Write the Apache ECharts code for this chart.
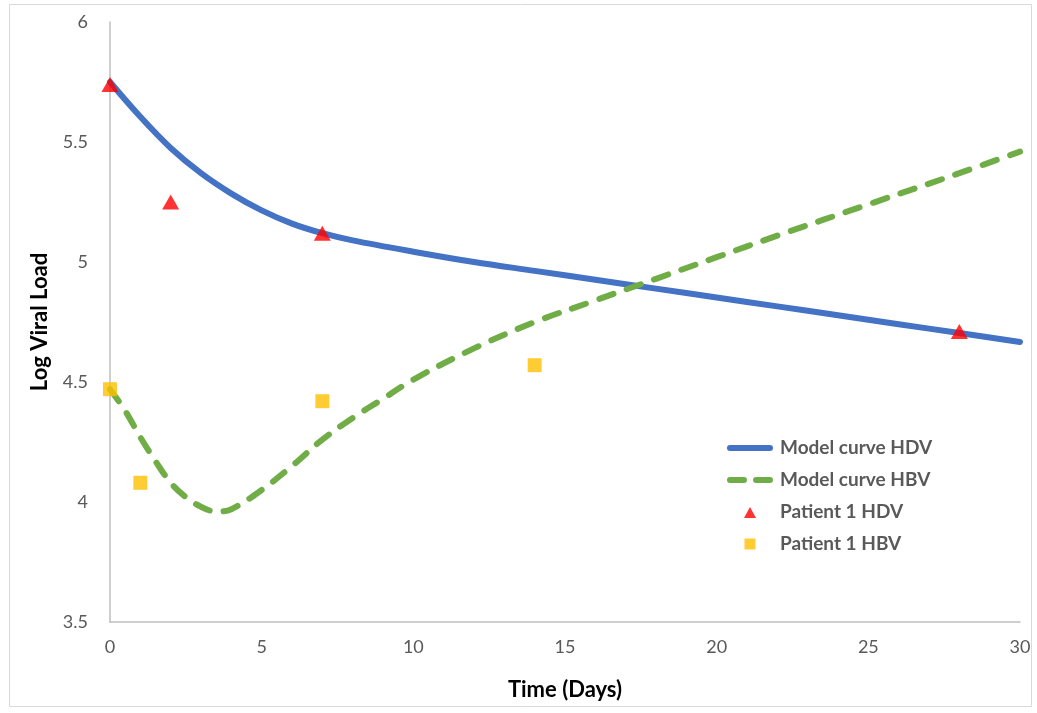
<!DOCTYPE html>
<html>
<head>
<meta charset="utf-8">
<script src="https://cdn.jsdelivr.net/npm/echarts@6/dist/echarts.min.js"></script>
<style>
  html, body { margin: 0; padding: 0; background: #fff; }
  #chart { width: 1037px; height: 713px; }
</style>
</head>
<body>
<div id="chart"></div>
<script>
// model curves (days, log viral load)
var hdvDays = [0, 1, 2, 3, 4, 5, 6, 7, 8, 10, 12, 14, 16, 18, 20, 22, 24, 26, 28, 30]
var hdvModel = [5.75, 5.605, 5.475, 5.37, 5.285, 5.215, 5.16, 5.12, 5.09, 5.043, 5.0, 4.963, 4.926, 4.889, 4.852, 4.815, 4.778, 4.741, 4.704, 4.667]
var hbvDays = [0, 0.5, 1, 1.5, 2, 2.5, 3, 3.5, 4, 5, 6, 7, 8, 9, 10, 12, 14, 16, 18, 20, 22, 25, 28, 30]
var hbvModel = [4.47, 4.38, 4.27, 4.17, 4.08, 4.02, 3.98, 3.96, 3.97, 4.05, 4.15, 4.26, 4.35, 4.43, 4.51, 4.64, 4.75, 4.84, 4.93, 5.02, 5.11, 5.24, 5.37, 5.46]

// patient measurements
var patHdvDays = [0, 2, 7, 28]
var patHdv = [5.74, 5.25, 5.12, 4.71]
var patHbvDays = [0, 1, 7, 14]
var patHbv = [4.47, 4.08, 4.42, 4.57]

function pairs(xs, ys) {
  return xs.map(function (x, i) { return [x, ys[i]] })
}

var font = 'Lato, "Open Sans", sans-serif'
// legend icons drawn in a 48x20 box (the bare M's fix the box size)
var box = 'M0,0 M48,20 '
var iconSolid = 'path://' + box + 'M3,7 L43,7 A3,3 0 0 1 43,13 L3,13 A3,3 0 0 1 3,7 Z'
var iconDash = 'path://' + box + 'M3,7 L17,7 A3,3 0 0 1 17,13 L3,13 A3,3 0 0 1 3,7 Z M29,7 L43,7 A3,3 0 0 1 43,13 L29,13 A3,3 0 0 1 29,7 Z'
var iconTri = 'path://' + box + 'M17,16 L29,16 L23,5 Z'
var iconSq = 'path://' + box + 'M17.5,4.5 L28.5,4.5 L28.5,15.5 L17.5,15.5 Z'

var chart = echarts.init(document.getElementById('chart'))

chart.setOption({
  animation: false,
  textStyle: { fontFamily: font },
  grid: { left: 110, right: 17, top: 22, bottom: 91, containLabel: false },
  graphic: [{
    type: 'rect',
    shape: { x: 9.5, y: 4.5, width: 1022, height: 702 },
    style: { fill: 'none', stroke: '#d9d9d9', lineWidth: 1 },
    silent: true
  }],
  legend: {
    left: 722,
    top: 433,
    orient: 'vertical',
    itemGap: 12,
    itemWidth: 48,
    itemHeight: 20,
    itemStyle: { borderWidth: 0 },
    textStyle: { fontSize: 19, fontWeight: 'bold', color: '#595959', fontFamily: font },
    data: [
      { name: 'Model curve HDV', icon: iconSolid },
      { name: 'Model curve HBV', icon: iconDash },
      { name: 'Patient 1 HDV', icon: iconTri },
      { name: 'Patient 1 HBV', icon: iconSq }
    ]
  },
  xAxis: {
    type: 'value',
    min: 0, max: 30, interval: 5,
    name: 'Time (Days)',
    nameLocation: 'middle',
    nameGap: 57,
    nameTextStyle: { fontSize: 22, fontWeight: 'bold', color: '#000', fontFamily: font },
    axisLine: { show: true, lineStyle: { color: '#bfbfbf', width: 1.5 } },
    axisTick: { show: false },
    splitLine: { show: false },
    axisLabel: { fontSize: 18, color: '#595959', margin: 16 }
  },
  yAxis: {
    type: 'value',
    min: 3.5, max: 6, interval: 0.5,
    name: 'Log Viral Load',
    nameLocation: 'middle',
    nameGap: 59,
    nameTextStyle: { fontSize: 22, fontWeight: 'bold', color: '#000', fontFamily: font },
    axisLine: { show: true, lineStyle: { color: '#bfbfbf', width: 1.5 } },
    axisTick: { show: false },
    splitLine: { show: false },
    axisLabel: { fontSize: 18, color: '#595959', margin: 22 }
  },
  series: [
    {
      name: 'Model curve HDV',
      type: 'line',
      smooth: 0.35,
      symbol: 'none',
      data: pairs(hdvDays, hdvModel),
      lineStyle: { color: '#4472c4', width: 6, cap: 'round' },
      itemStyle: { color: '#4472c4' },
      z: 2
    },
    {
      name: 'Model curve HBV',
      type: 'line',
      smooth: 0.35,
      symbol: 'none',
      data: pairs(hbvDays, hbvModel),
      lineStyle: { color: '#70ad47', width: 6, type: [15, 14], cap: 'round' },
      itemStyle: { color: '#70ad47' },
      z: 2
    },
    {
      name: 'Patient 1 HDV',
      type: 'scatter',
      symbol: 'triangle',
      symbolSize: [17, 15],
      data: pairs(patHdvDays, patHdv),
      itemStyle: { color: '#ff0000' },
      z: 3
    },
    {
      name: 'Patient 1 HBV',
      type: 'scatter',
      symbol: 'rect',
      symbolSize: 14,
      data: pairs(patHbvDays, patHbv),
      itemStyle: { color: '#ffc000' },
      z: 3
    }
  ]
})
</script>
</body>
</html>
